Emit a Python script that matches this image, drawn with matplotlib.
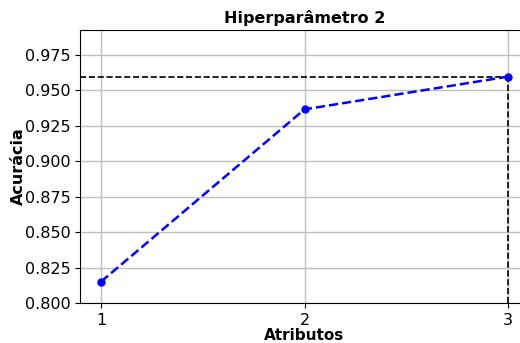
import matplotlib
matplotlib.use("Agg")
import matplotlib.pyplot as plt

# Acurácia por número de atributos
atributos = [1, 2, 3]
acuracia = [0.815, 0.9366, 0.9597]
yticks = [0.800, 0.825, 0.850, 0.875, 0.900, 0.925, 0.950, 0.975]

fig = plt.figure(figsize=(5.2, 3.43), dpi=100)
ax = fig.add_axes([80 / 520, 40 / 343, 449 / 520, 273 / 343])

ax.plot(atributos, acuracia, 'b--o', linewidth=1.8, markersize=5, zorder=3)

# Marca o melhor resultado
melhor = max(acuracia)
x_melhor = atributos[acuracia.index(melhor)]
ax.plot([0.897, x_melhor], [melhor, melhor], 'k--', linewidth=1.2, zorder=2)
ax.plot([x_melhor, x_melhor], [0.8, melhor], 'k--', linewidth=1.2, zorder=2)

ax.set_xlim(0.897, 3.103)
ax.set_ylim(0.8, 0.9926)
ax.set_xticks(atributos)
ax.set_yticks(yticks)
ax.tick_params(labelsize=11.5)
ax.grid(True, color='#c0c0c0', linewidth=1.0)
ax.set_axisbelow(True)
ax.spines['right'].set_visible(False)

ax.set_title('Hiperparâmetro 2', fontsize=11.5, fontweight='bold', pad=5)
ax.set_xlabel('Atributos', fontsize=11, fontweight='bold', labelpad=0)
ax.set_ylabel('Acurácia', fontsize=11.5, fontweight='bold', labelpad=-1)

fig.savefig('out.png', dpi=100)
